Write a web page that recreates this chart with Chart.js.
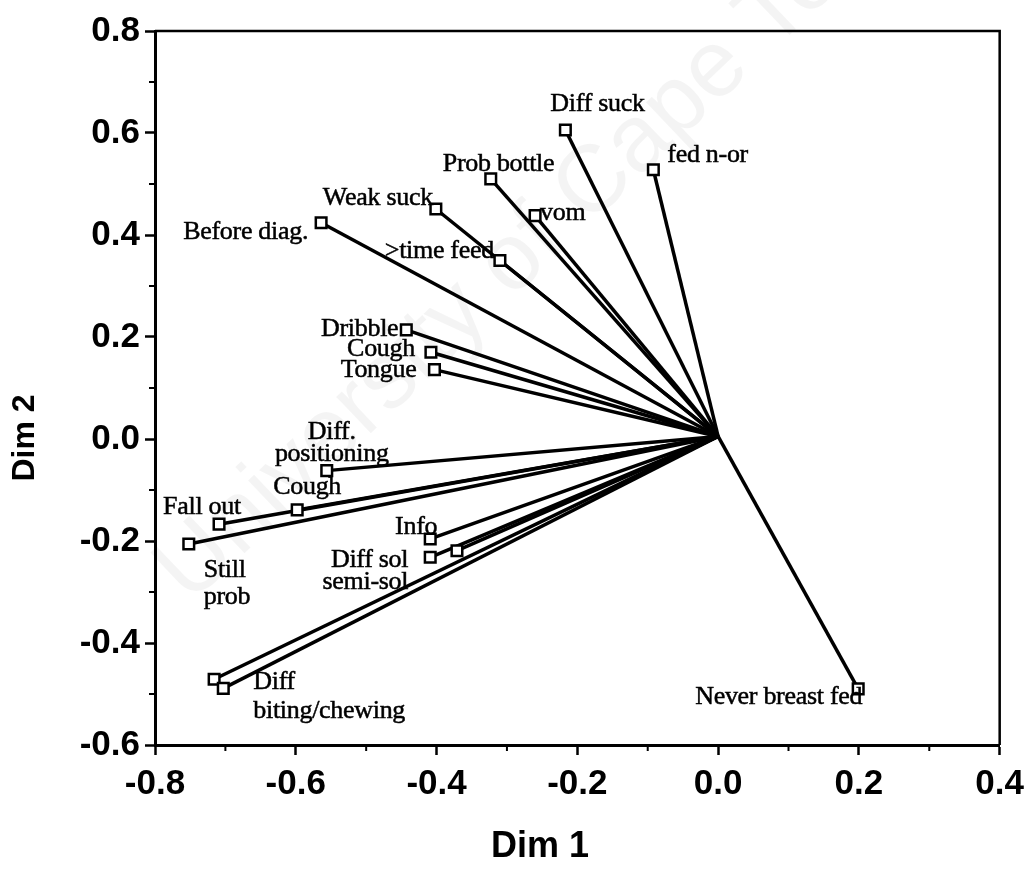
<!DOCTYPE html>
<html>
<head>
<meta charset="utf-8">
<script src="https://cdn.jsdelivr.net/npm/chart.js@4.4.0/dist/chart.umd.min.js"></script>
<style>
  html, body { margin: 0; padding: 0; background: #fff; }
  #wrap { width: 1032px; height: 885px; }
</style>
</head>
<body>
<div id="wrap"><canvas id="biplot"></canvas></div>
<script>
// variables (one line of text per array entry, '' = unlabelled point)
const labels = [
  ['Diff suck'], ['fed n-or'], ['Prob bottle'], ['vom'], ['Weak suck'],
  ['>time feed'], ['Before diag.'], ['Dribble'], ['Cough'], ['Tongue'],
  ['Diff.', 'positioning'], ['Cough'], ['Fall out'], ['Still', 'prob'], ['Info'],
  ['Diff sol', 'semi-sol'], [''], [''], ['Diff', 'biting/chewing'], ['Never breast fed']
];
const dim1 = [-0.217, -0.092, -0.323, -0.260, -0.401, -0.310, -0.564, -0.443, -0.408, -0.403,
              -0.556, -0.598, -0.709, -0.752, -0.409, -0.409, -0.371, -0.716, -0.703, 0.199];
const dim2 = [0.606, 0.528, 0.510, 0.438, 0.451, 0.350, 0.424, 0.214, 0.170, 0.136,
              -0.062, -0.139, -0.167, -0.206, -0.196, -0.232, -0.219, -0.471, -0.489, -0.490];
const origin = [0, 0.005];

const xTicks = [-0.8, -0.6, -0.4, -0.2, 0.0, 0.2, 0.4];
const yTicks = [-0.6, -0.4, -0.2, 0.0, 0.2, 0.4, 0.6, 0.8];
const xMinor = [-0.7, -0.5, -0.3, -0.1, 0.1, 0.3];
const yMinor = [-0.5, -0.3, -0.1, 0.1, 0.3, 0.5, 0.7];

// label placement: [align, dx, dy of first baseline, line gap] in px from the point
const labelPlace = [
  ['left', -15, -19, 0], ['left', 14, -8, 0], ['left', -48, -8, 0], ['left', 5, 4, 0], ['right', -3, -4, 0],
  ['right', -6, -3, 0], ['right', -13, 16, 0], ['right', -8, 6, 0], ['right', -16, 4, 0], ['right', -18, 7, 0],
  ['center', 5, -32, 22], ['left', -24, -16, 0], ['left', -56, -10, 0], ['left', 15, 33, 27], ['right', 7, -5, 0],
  ['right', -22, 10, 22], ['left', 0, 0, 0], ['left', 0, 0, 0], ['left', 30, 1, 29], ['right', 4, 15, 0]
];

const tickFont = { family: "'Liberation Sans', Arial, sans-serif", size: 35, weight: 'bold' };

const rays = dim1.map((x, i) => ({
  data: [{ x: origin[0], y: origin[1] }, { x: x, y: dim2[i] }],
  showLine: true,
  borderColor: '#000',
  borderWidth: 3.5,
  pointRadius: 0,
  order: 2
}));

const points = {
  data: dim1.map((x, i) => ({ x: x, y: dim2[i] })),
  pointStyle: 'rect',
  pointRadius: 7.5,
  pointBorderWidth: 2.5,
  borderColor: '#000',
  backgroundColor: '#fff',
  order: 1
};

const decor = {
  id: 'decor',
  beforeDatasetsDraw(chart) {
    // faint watermark
    const ctx = chart.ctx;
    ctx.save();
    ctx.translate(190, 605);
    ctx.rotate(-0.76);
    ctx.font = "95px 'Liberation Sans', Arial, sans-serif";
    ctx.fillStyle = 'rgba(0,0,0,0.045)';
    ctx.textBaseline = 'alphabetic';
    ctx.fillText('University of Cape Town', 0, 0);
    ctx.restore();
  },
  afterDraw(chart) {
    const ctx = chart.ctx;
    const a = chart.chartArea;
    const xs = chart.scales.x, ys = chart.scales.y;
    ctx.save();
    ctx.strokeStyle = '#000';
    // top + right frame
    ctx.lineWidth = 2.5;
    ctx.beginPath();
    ctx.moveTo(a.left, a.top);
    ctx.lineTo(a.right, a.top);
    ctx.lineTo(a.right, a.bottom);
    ctx.stroke();
    // minor ticks
    ctx.lineWidth = 2;
    ctx.beginPath();
    xMinor.forEach(v => {
      const px = xs.getPixelForValue(v);
      ctx.moveTo(px, a.bottom);
      ctx.lineTo(px, a.bottom + 6);
    });
    yMinor.forEach(v => {
      const py = ys.getPixelForValue(v);
      ctx.moveTo(a.left - 6, py);
      ctx.lineTo(a.left, py);
    });
    ctx.stroke();

    // axis titles
    ctx.fillStyle = '#000';
    ctx.font = "bold 36px 'Liberation Sans', Arial, sans-serif";
    ctx.textAlign = 'center';
    ctx.textBaseline = 'middle';
    ctx.fillText('Dim 1', 540, 847);
    ctx.save();
    ctx.translate(25, 438);
    ctx.rotate(-Math.PI / 2);
    ctx.font = "bold 32px 'Liberation Sans', Arial, sans-serif";
    ctx.fillText('Dim 2', 0, 0);
    ctx.restore();

    // point labels
    const meta = chart.getDatasetMeta(chart.data.datasets.length - 1);
    ctx.font = "26px 'Liberation Serif', 'Times New Roman', serif";
    ctx.letterSpacing = '-0.3px';
    ctx.textBaseline = 'alphabetic';
    ctx.lineWidth = 0.5;
    meta.data.forEach((el, i) => {
      const [align, dx, dy, gap] = labelPlace[i];
      ctx.textAlign = align;
      labels[i].forEach((line, k) => {
        if (!line) return;
        ctx.fillText(line, el.x + dx, el.y + dy + k * gap);
        ctx.strokeText(line, el.x + dx, el.y + dy + k * gap);
      });
    });
    ctx.restore();
  }
};

new Chart(document.getElementById('biplot'), {
  type: 'scatter',
  data: { datasets: [...rays, points] },
  options: {
    responsive: true,
    maintainAspectRatio: false,
    animation: false,
    layout: { padding: { top: 31, right: 32, left: 0, bottom: 0 } },
    plugins: { legend: { display: false }, tooltip: { enabled: false } },
    scales: {
      x: {
        type: 'linear',
        min: -0.8,
        max: 0.4,
        afterBuildTicks: s => { s.ticks = xTicks.map(v => ({ value: v })); },
        afterFit: s => { s.height = 140; },
        ticks: { callback: v => v.toFixed(1), font: tickFont, color: '#000', padding: 8, maxRotation: 0, autoSkip: false },
        grid: { drawOnChartArea: false, tickLength: 10, tickWidth: 2.5, tickColor: '#000' },
        border: { width: 3, color: '#000' }
      },
      y: {
        type: 'linear',
        min: -0.6,
        max: 0.8,
        afterBuildTicks: s => { s.ticks = yTicks.map(v => ({ value: v })); },
        afterFit: s => { s.width = 155; },
        ticks: { callback: v => v.toFixed(1), font: tickFont, color: '#000', padding: 5, autoSkip: false },
        grid: { drawOnChartArea: false, tickLength: 10, tickWidth: 2.5, tickColor: '#000' },
        border: { width: 3, color: '#000' }
      }
    }
  },
  plugins: [decor]
});
</script>
</body>
</html>
